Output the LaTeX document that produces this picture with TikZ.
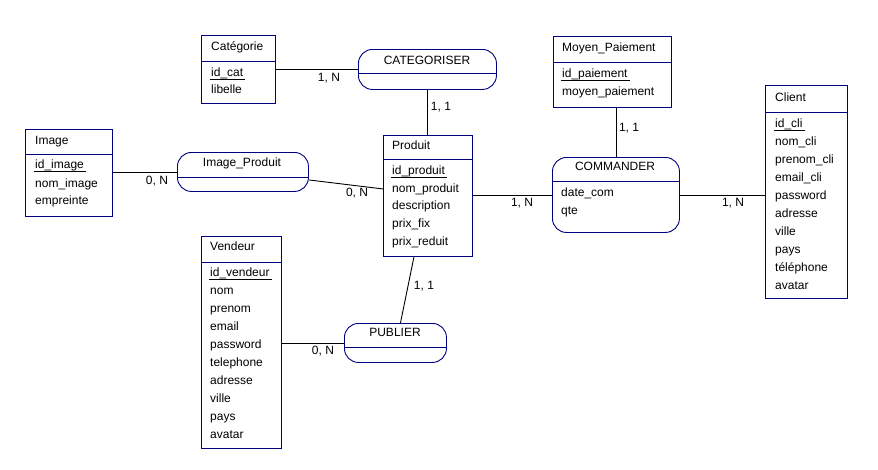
\documentclass[tikz,border=0pt]{standalone}
\usepackage{fontspec}
\setmainfont{Liberation Sans}
\usetikzlibrary{calc}
\definecolor{navy}{RGB}{0,0,128}
\tikzset{
  entity/.style={draw=navy, line width=0.9pt, anchor=north west, inner sep=0pt},
  relation/.style={draw=navy, line width=0.9pt, rounded corners=14pt, anchor=north west, inner sep=0pt},
  divider/.style={draw=navy, line width=0.9pt},
  txt/.style={anchor=mid west, inner sep=0pt, yshift=-1.5pt, font=\fontsize{12}{14}\selectfont},
  ctxt/.style={anchor=mid, inner sep=0pt, yshift=-1.5pt, font=\fontsize{12}{14}\selectfont},
  card/.style={anchor=mid, inner sep=0pt, yshift=-1.5pt, font=\fontsize{12}{14}\selectfont},
  link/.style={draw=black, line width=0.9pt},
  idline/.style={draw=black, line width=0.9pt},
}
\begin{document}
\begin{tikzpicture}[x=1pt,y=-1pt]
\fill[white] (0,0) rectangle (878,469);
\useasboundingbox (0,0) rectangle (878,469);

% ---------- entities ----------
% Catégorie
\node[entity, minimum width=74pt, minimum height=68pt] (categorie) at (201,35) {};
\draw[divider] ($(categorie.north west)+(0,26)$) -- ($(categorie.north east)+(0,26)$);
\node[txt] (categorieT) at (211,46) {Catégorie};
\node[txt] (idcat) at (211,72) {id\_cat};
\node[txt] (libelle) at (211,89) {libelle};
\draw[idline] ($(idcat.base west)+(-1,3)$) -- ($(idcat.base east)+(2,3)$);

% Image
\node[entity, minimum width=87pt, minimum height=87pt] (image) at (25,129) {};
\draw[divider] ($(image.north west)+(0,25)$) -- ($(image.north east)+(0,25)$);
\node[txt] (imageT) at (35,140) {Image};
\node[txt] (idimage) at (35,164) {id\_image};
\node[txt] (nomimage) at (35,183) {nom\_image};
\node[txt] (empreinte) at (35,200) {empreinte};
\draw[idline] ($(idimage.base west)+(-1,3)$) -- ($(idimage.base east)+(2,3)$);

% Produit
\node[entity, minimum width=89pt, minimum height=121pt] (produit) at (383,135) {};
\draw[divider] ($(produit.north west)+(0,24)$) -- ($(produit.north east)+(0,24)$);
\node[txt] (produitT) at (392,145) {Produit};
\node[txt] (idproduit) at (392,170) {id\_produit};
\node[txt] (nomproduit) at (392,188) {nom\_produit};
\node[txt] (description) at (392,205) {description};
\node[txt] (prixfix) at (392,223) {prix\_fix};
\node[txt] (prixreduit) at (392,241) {prix\_reduit};
\draw[idline] ($(idproduit.base west)+(-1,3)$) -- ($(idproduit.base east)+(2,3)$);

% Moyen_Paiement
\node[entity, minimum width=118pt, minimum height=71pt] (moyen) at (553,36) {};
\draw[divider] ($(moyen.north west)+(0,26)$) -- ($(moyen.north east)+(0,26)$);
\node[txt] (moyenT) at (562,47) {Moyen\_Paiement};
\node[txt] (idpaiement) at (562,73) {id\_paiement};
\node[txt] (moyenpaiement) at (562,91) {moyen\_paiement};
\draw[idline] ($(idpaiement.base west)+(-1,3)$) -- ($(idpaiement.base east)+(2,3)$);

% Client
\node[entity, minimum width=82pt, minimum height=213pt] (client) at (765,85) {};
\draw[divider] ($(client.north west)+(0,27)$) -- ($(client.north east)+(0,27)$);
\node[txt] (clientT) at (775,97) {Client};
\foreach \lbl/\t [count=\i from 0] in {idcli/id\_cli, nomcli/nom\_cli, prenomcli/prenom\_cli,
    emailcli/email\_cli, passwordcli/password, adressecli/adresse, villecli/ville,
    payscli/pays, telephonecli/téléphone, avatarcli/avatar}
  \node[txt] (\lbl) at (775,123+18*\i) {\t};
\draw[idline] ($(idcli.base west)+(-1,3)$) -- ($(idcli.base east)+(2,3)$);

% Vendeur
\node[entity, minimum width=80pt, minimum height=212pt] (vendeur) at (201,236) {};
\draw[divider] ($(vendeur.north west)+(0,26)$) -- ($(vendeur.north east)+(0,26)$);
\node[txt] (vendeurT) at (210,246) {Vendeur};
\foreach \lbl/\t [count=\i from 0] in {idvendeur/id\_vendeur, nomv/nom, prenomv/prenom,
    emailv/email, passwordv/password, telephonev/telephone, adressev/adresse,
    villev/ville, paysv/pays, avatarv/avatar}
  \node[txt] (\lbl) at (210,272+18*\i) {\t};
\draw[idline] ($(idvendeur.base west)+(-1,3)$) -- ($(idvendeur.base east)+(2,3)$);

% ---------- relations ----------
% CATEGORISER
\node[relation, minimum width=138pt, minimum height=40pt] (categoriser) at (358,49) {};
\draw[divider] ($(categoriser.north west)+(0,24)$) -- ($(categoriser.north east)+(0,24)$);
\node[ctxt] (categoriserT) at (427,60) {CATEGORISER};

% Image_Produit
\node[relation, minimum width=131pt, minimum height=39pt] (imageproduit) at (177,152) {};
\draw[divider] ($(imageproduit.north west)+(0,25)$) -- ($(imageproduit.north east)+(0,25)$);
\node[ctxt] (imageproduitT) at (242,162) {Image\_Produit};

% COMMANDER
\node[relation, minimum width=127pt, minimum height=75pt] (commander) at (552,157) {};
\draw[divider] ($(commander.north west)+(0,24)$) -- ($(commander.north east)+(0,24)$);
\node[ctxt] (commanderT) at (615,166) {COMMANDER};
\node[txt] (datecom) at (561,192) {date\_com};
\node[txt] (qte) at (561,210) {qte};

% PUBLIER
\node[relation, minimum width=102pt, minimum height=39pt] (publier) at (344,323) {};
\draw[divider] ($(publier.north west)+(0,24)$) -- ($(publier.north east)+(0,24)$);
\node[ctxt] (publierT) at (395,332) {PUBLIER};

% ---------- links and cardinalities ----------
\draw[link] (categorie.east |- categoriser.west) -- (categoriser.west);
\node[card] (c1) at (329,77) {1, N};

\draw[link] (categoriser.south) -- (categoriser.south |- produit.north);
\node[card] (c2) at (441,106) {1, 1};

\draw[link] (image.east |- imageproduit.west) -- (imageproduit.west);
\node[card] (c3) at (157,180) {0, N};

\draw[link] ($(imageproduit.east)+(0,8)$) -- ($(produit.west)+(0,-7)$);
\node[card] (c4) at (357,192) {0, N};

\draw[link] (produit.east |- commander.west) -- (commander.west);
\node[card] (c5) at (522,202) {1, N};

\draw[link] (commander.north) -- (commander.north |- moyen.south);
\node[card] (c6) at (629,127) {1, 1};

\draw[link] (commander.east) -- (commander.east -| client.west);
\node[card] (c7) at (733,202) {1, N};

\draw[link] ($(produit.south)+(-14,0)$) -- ($(publier.north)+(5,0)$);
\node[card] (c8) at (424,285) {1, 1};

\draw[link] (vendeur.east |- publier.west) -- (publier.west);
\node[card] (c9) at (323,350) {0, N};
\end{tikzpicture}
\end{document}
